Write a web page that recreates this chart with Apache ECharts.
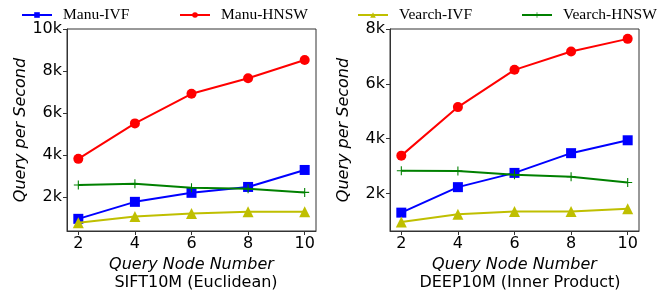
<!DOCTYPE html>
<html>
<head>
<meta charset="utf-8">
<script src="https://cdn.jsdelivr.net/npm/echarts@6/dist/echarts.min.js"></script>
<style>
  html, body { margin: 0; padding: 0; background: #fff; }
  #chart { width: 662px; height: 296px; }
</style>
</head>
<body>
<div id="chart"></div>
<script>
// query node counts on the x axis
var nodeCounts = [2, 4, 6, 8, 10];

// SIFT10M (Euclidean), queries per second
var siftManuIvf = [950, 1760, 2190, 2470, 3280];
var siftManuHnsw = [3810, 5500, 6910, 7650, 8520];
var siftVearchIvf = [760, 1060, 1210, 1290, 1290];
var siftVearchHnsw = [2560, 2620, 2430, 2380, 2210];

// DEEP10M (Inner Product), queries per second
var deepManuIvf = [1300, 2230, 2750, 3470, 3940];
var deepManuHnsw = [3380, 5150, 6510, 7180, 7640];
var deepVearchIvf = [960, 1240, 1340, 1340, 1440];
var deepVearchHnsw = [2830, 2820, 2680, 2610, 2400];

var xTicks = [2, 4, 6, 8, 10];
var siftYTicks = [2000, 4000, 6000, 8000, 10000];
var deepYTicks = [2000, 4000, 6000, 8000];

var seriesNames = ["Manu-IVF", "Manu-HNSW", "Vearch-IVF", "Vearch-HNSW"];

var chart = echarts.init(document.getElementById("chart"));

var tickFont = { fontFamily: "DejaVu Sans", fontSize: 16, color: "#000" };
var nameFont = { fontFamily: "DejaVu Sans", fontSize: 16, fontStyle: "italic", color: "#000" };
var plusPath = "path://M4.4,0H5.6V4.4H10V5.6H5.6V10H4.4V5.6H0V4.4H4.4Z";

var styles = [
    { color: "#0000ff", symbol: "rect", size: 10 },
    { color: "#ff0000", symbol: "circle", size: 10 },
    { color: "#bfbf00", symbol: "triangle", size: 11 },
    { color: "#008000", symbol: plusPath, size: 9 }
];

function makeX(gridIndex) {
    return {
        type: "value",
        gridIndex: gridIndex,
        min: 1.6,
        max: 10.4,
        name: "Query Node Number",
        nameLocation: "middle",
        nameGap: 19,
        nameTextStyle: nameFont,
        splitLine: { show: false },
        axisLine: { show: true, lineStyle: { color: "#333", width: 1 } },
        axisTick: { show: true, length: 4, inside: false, customValues: xTicks, lineStyle: { color: "#333" } },
        axisLabel: Object.assign({ customValues: xTicks, margin: 5 }, tickFont)
    };
}

function makeY(gridIndex, min, max, ticks) {
    return {
        type: "value",
        gridIndex: gridIndex,
        min: min,
        max: max,
        name: "Query per Second",
        nameLocation: "middle",
        nameGap: 38,
        nameTextStyle: nameFont,
        splitLine: { show: false },
        axisLine: { show: true, lineStyle: { color: "#333", width: 1 } },
        axisTick: { show: true, length: 4, customValues: ticks, lineStyle: { color: "#333" } },
        axisLabel: Object.assign({
            customValues: ticks,
            margin: 5,
            formatter: function (v) { return v / 1000 + "k"; }
        }, tickFont)
    };
}

function makeSeries(gridIndex, lists) {
    return lists.map(function (vals, i) {
        var st = styles[i];
        return {
            name: seriesNames[i],
            type: "line",
            xAxisIndex: gridIndex,
            yAxisIndex: gridIndex,
            data: nodeCounts.map(function (n, k) { return [n, vals[k]]; }),
            symbol: st.symbol,
            symbolSize: st.size,
            showAllSymbol: true,
            lineStyle: { color: st.color, width: 2 },
            itemStyle: { color: st.color },
            z: 2 + i,
            animation: false
        };
    });
}

function makeLegend(name, left) {
    return {
        data: [name],
        left: left,
        top: 2,
        itemWidth: 30,
        itemHeight: 7,
        selectedMode: false,
        textStyle: { fontFamily: "Liberation Serif", fontSize: 15.5, color: "#000", padding: [0, 0, 0, 6] }
    };
}

var option = {
    animation: false,
    title: [
        { text: "SIFT10M (Euclidean)", left: 191, top: 270, textAlign: "center",
          textStyle: { fontFamily: "DejaVu Sans", fontSize: 16, fontWeight: "normal", color: "#000" } },
        { text: "DEEP10M (Inner Product)", left: 515, top: 270, textAlign: "center",
          textStyle: { fontFamily: "DejaVu Sans", fontSize: 16, fontWeight: "normal", color: "#000" } }
    ],
    legend: [
        makeLegend(seriesNames[0], 16),
        makeLegend(seriesNames[1], 174),
        makeLegend(seriesNames[2], 352),
        makeLegend(seriesNames[3], 516)
    ],
    grid: [
        { left: 67, top: 29, width: 249, height: 202, show: true, borderColor: "#333", borderWidth: 1, backgroundColor: "transparent" },
        { left: 390, top: 29, width: 249, height: 202, show: true, borderColor: "#333", borderWidth: 1, backgroundColor: "transparent" }
    ],
    xAxis: [makeX(0), makeX(1)],
    yAxis: [makeY(0, 370, 10000, siftYTicks), makeY(1, 630, 8000, deepYTicks)],
    series: makeSeries(0, [siftManuIvf, siftManuHnsw, siftVearchIvf, siftVearchHnsw])
        .concat(makeSeries(1, [deepManuIvf, deepManuHnsw, deepVearchIvf, deepVearchHnsw]))
};

chart.setOption(option);
</script>
</body>
</html>
